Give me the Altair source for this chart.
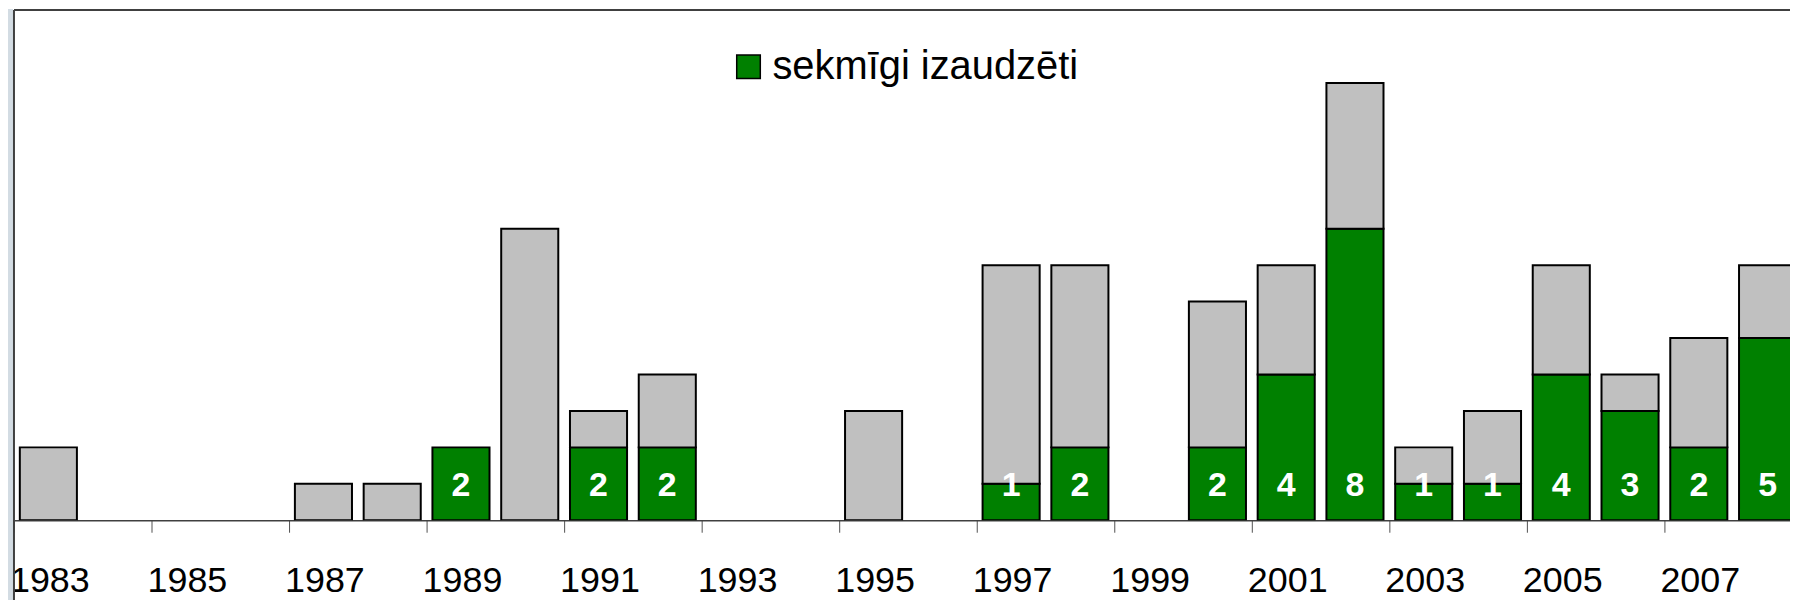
import altair as alt
import pandas as pd

# ---- data ----
years = list(range(1983, 2009))
totals = [2, 0, 0, 0, 1, 1, 2, 8, 3, 4, 0, 0, 3, 0, 7, 7, 0, 6, 7, 12, 2, 3, 7, 4, 5, 7]
success = [0, 0, 0, 0, 0, 0, 2, 0, 2, 2, 0, 0, 0, 0, 1, 2, 0, 2, 4, 8, 1, 1, 4, 3, 2, 5]
label_years = list(range(1983, 2009, 2))

SUCCESS = "sekmīgi izaudzēti"
OTHER = "pārējie"
GREEN = "#008000"
GRAY = "#c0c0c0"
FONT = "Liberation Sans"
BORDER = "#404040"

rows = []
for yr, t, s in zip(years, totals, success):
    if s > 0:
        rows.append({"year": yr, "y0": 0, "y1": s, "seg": SUCCESS})
    if t - s > 0:
        rows.append({"year": yr, "y0": s, "y1": t, "seg": OTHER})
df = pd.DataFrame(rows)
df_lab = pd.DataFrame({"year": years, "success": success})
df_lab = df_lab[df_lab["success"] > 0]

W = 1782
H = 512
PAD_B = 80
PX_PER_YEAR = 69
x_end = 1982.5 + W / PX_PER_YEAR

xscale = alt.Scale(domain=[1982.5, x_end], nice=False, zero=False)
yscale = alt.Scale(domain=[0, 14], nice=False, zero=True)

xaxis = alt.Axis(
    values=[y - 0.5 for y in label_years],
    labelExpr="format(datum.value + 0.5, 'd')",
    labelOffset=PX_PER_YEAR / 2 + 1,
    labelFlush=False,
    labelOverlap=False,
    labelBound=False,
    labelFont=FONT,
    labelFontSize=36,
    labelColor="black",
    labelPadding=31,
    tickSize=12,
    tickColor="#505050",
    tickWidth=1,
    domainColor=BORDER,
    domainWidth=1.5,
    grid=False,
    title=None,
)
yaxis = alt.Axis(labels=False, ticks=False, grid=False, title=None, domain=False)

bars = (
    alt.Chart(df)
    .transform_calculate(xa="datum.year - 0.415", xb="datum.year + 0.415")
    .mark_rect(stroke="black", strokeWidth=2, clip=True)
    .encode(
        x=alt.X("xa:Q", scale=xscale, axis=xaxis, title=None),
        x2="xb:Q",
        y=alt.Y("y0:Q", scale=yscale, axis=yaxis, title=None),
        y2="y1:Q",
        color=alt.Color(
            "seg:N",
            scale=alt.Scale(domain=[SUCCESS, OTHER], range=[GREEN, GRAY]),
            legend=alt.Legend(
                values=[SUCCESS],
                orient="none",
                legendX=717,
                legendY=37,
                title=None,
                padding=0,
                symbolType="square",
                symbolSize=560,
                symbolStrokeColor="black",
                symbolStrokeWidth=1.5,
                labelFont=FONT,
                labelFontSize=40,
                labelColor="black",
                labelOffset=4,
                labelLimit=800,
            ),
        ),
    )
)

labels = (
    alt.Chart(df_lab)
    .mark_text(color="white", fontWeight="bold", fontSize=34, font=FONT, baseline="middle")
    .encode(
        x=alt.X("year:Q", scale=xscale, axis=xaxis, title=None),
        y=alt.datum(0.95, type="quantitative", scale=yscale, axis=yaxis, title=None),
        text="success:Q",
    )
)

# textured strip left of the chart-area border (approximated by a flat tint)
left_strip = (
    alt.Chart(pd.DataFrame({"v": [0]}))
    .mark_rect(color="#d3dce3")
    .encode(x=alt.value(-6), x2=alt.value(-1), y=alt.value(-1), y2=alt.value(H + PAD_B))
)

top_border = (
    alt.Chart(pd.DataFrame({"v": [0]}))
    .mark_rule(color=BORDER, strokeWidth=2)
    .encode(x=alt.value(0), x2=alt.value(W), y=alt.value(0))
)

left_border = (
    alt.Chart(pd.DataFrame({"v": [0]}))
    .mark_rule(color=BORDER, strokeWidth=2)
    .encode(x=alt.value(0), y=alt.value(0), y2=alt.value(H + PAD_B))
)

chart = (
    alt.layer(bars, labels, left_strip, top_border, left_border)
    .properties(
        width=W,
        height=H,
        autosize="none",
        padding={"left": 6, "top": 1, "right": 0, "bottom": PAD_B},
    )
    .configure(background="white")
    .configure_view(fill="white", stroke=None)
)

chart.save("out.html", embed_options={"renderer": "svg", "actions": False})
